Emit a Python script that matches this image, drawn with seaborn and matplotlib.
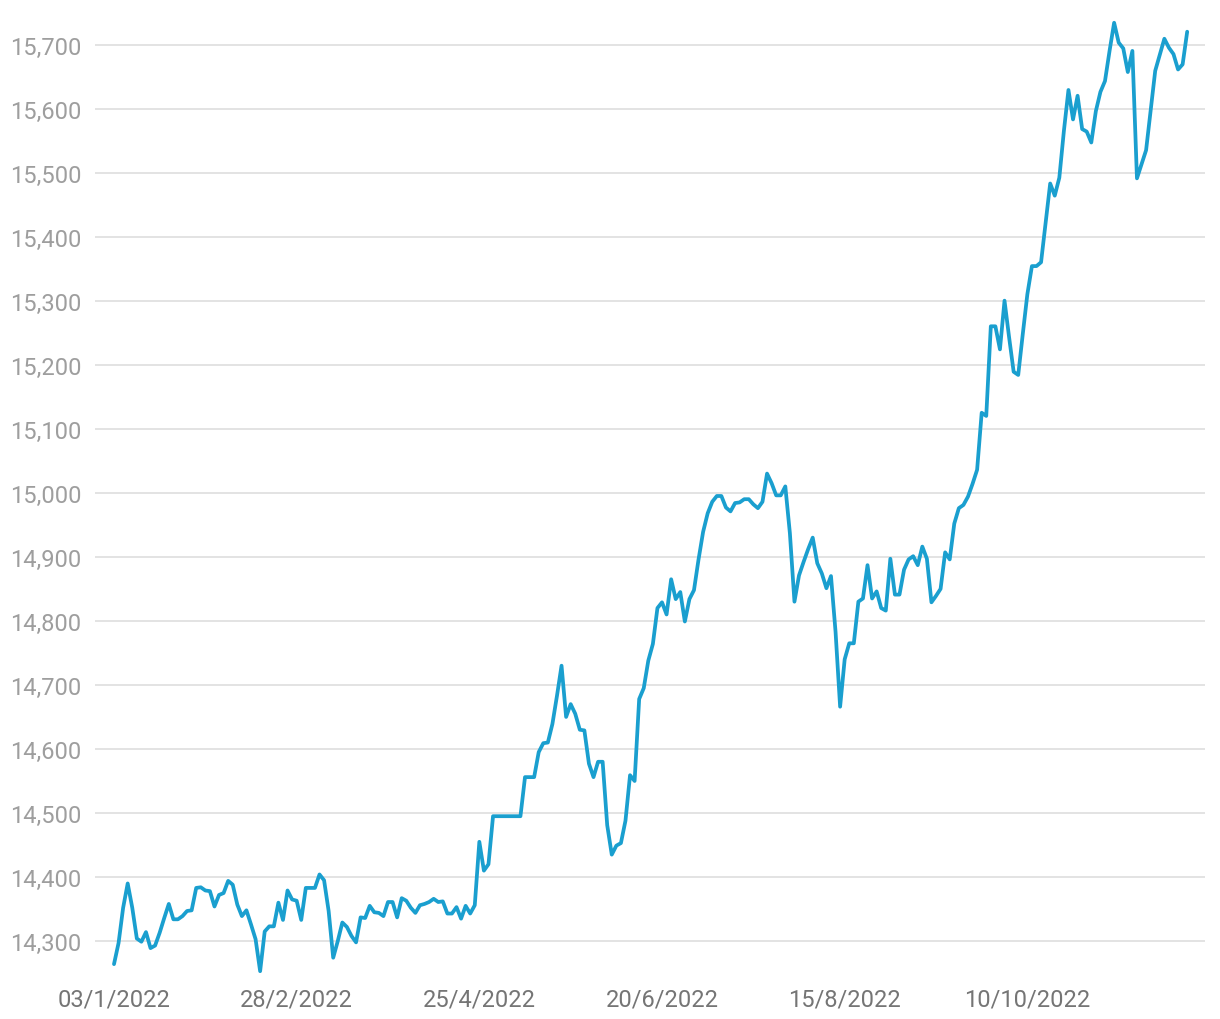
import numpy as np
import pandas as pd
import matplotlib
matplotlib.use("Agg")
import matplotlib.pyplot as plt
import seaborn as sns

# daily closing values, business days from 03/1/2022, split by 40-day blocks
jan_feb = [14264, 14297, 14352, 14390, 14352, 14304, 14299, 14314, 14289, 14293,
           14313, 14336, 14358, 14334, 14334, 14339, 14347, 14348, 14383, 14384,
           14379, 14378, 14354, 14372, 14375, 14394, 14388, 14357, 14339, 14348,
           14326, 14303, 14253, 14315, 14323, 14323, 14360, 14333, 14379, 14365]
mar_apr = [14363, 14333, 14383, 14383, 14383, 14404, 14395, 14347, 14274, 14300,
           14329, 14322, 14308, 14298, 14337, 14336, 14355, 14345, 14344, 14339,
           14361, 14361, 14337, 14367, 14363, 14352, 14344, 14356, 14358, 14361,
           14366, 14361, 14362, 14343, 14343, 14353, 14335, 14355, 14343, 14356]
apr_jun = [14455, 14410, 14420, 14495, 14495, 14495, 14495, 14495, 14495, 14495,
           14556, 14556, 14556, 14595, 14609, 14610, 14639, 14683, 14730, 14650,
           14670, 14655, 14630, 14629, 14577, 14556, 14580, 14580, 14481, 14435,
           14449, 14453, 14488, 14559, 14550, 14678, 14695, 14738, 14764, 14820]
jun_aug = [14829, 14810, 14865, 14834, 14845, 14799, 14834, 14848, 14896, 14939,
           14968, 14986, 14995, 14995, 14977, 14971, 14984, 14985, 14990, 14990,
           14982, 14976, 14986, 15030, 15015, 14996, 14996, 15010, 14937, 14830,
           14871, 14892, 14912, 14930, 14890, 14874, 14851, 14870, 14783, 14666]
aug_oct = [14740, 14765, 14765, 14830, 14835, 14887, 14835, 14846, 14820, 14816,
           14897, 14841, 14841, 14880, 14896, 14901, 14887, 14916, 14897, 14829,
           14839, 14850, 14907, 14896, 14952, 14976, 14981, 14994, 15014, 15036,
           15125, 15120, 15260, 15260, 15224, 15300, 15243, 15189, 15184, 15248]
oct_nov = [15310, 15354, 15354, 15360, 15422, 15483, 15464, 15492, 15565, 15629,
           15583, 15620, 15568, 15564, 15547, 15596, 15626, 15643, 15690, 15734,
           15703, 15694, 15657, 15690, 15491, 15513, 15535, 15597, 15659, 15684,
           15709, 15695, 15685, 15661, 15669, 15720]

values = jan_feb + mar_apr + apr_jun + jun_aug + aug_oct + oct_nov
dates = pd.bdate_range("2022-01-03", periods=len(values))
tick_step = 40

df = pd.DataFrame({"pos": np.arange(len(values)), "value": values})

sns.set_style("white")
plt.rcParams["font.family"] = ["Roboto", "DejaVu Sans"]

fig = plt.figure(figsize=(12.2, 10.2), dpi=100)
ax = fig.add_axes([95 / 1220, 1 - 980.5 / 1020, 1110 / 1220, 967.0 / 1020])

sns.lineplot(data=df, x="pos", y="value", ax=ax, color="#1a9fcf", linewidth=2.7)

ax.set_xlim(-4.16, 238.9)
ax.set_ylim(14240, 15750)
ax.set_yticks(np.arange(14300, 15701, 100))
ax.yaxis.set_major_formatter(matplotlib.ticker.FuncFormatter(lambda v, p: f"{v:,.0f}"))

tick_pos = np.arange(0, len(values), tick_step)
ax.set_xticks(tick_pos)
ax.set_xticklabels([f"{dates[i].day:02d}/{dates[i].month}/{dates[i].year}" for i in tick_pos])

ax.grid(axis="y", color="#e0e0e0", linewidth=1.3)
ax.set_axisbelow(True)
for s in ax.spines.values():
    s.set_visible(False)
ax.tick_params(axis="y", length=0, pad=10, labelsize=17, labelcolor="#9e9e9e")
ax.tick_params(axis="x", length=0, pad=6, labelsize=17, labelcolor="#757575")
ax.set_xlabel("")
ax.set_ylabel("")

fig.savefig("out.png", dpi=100)
